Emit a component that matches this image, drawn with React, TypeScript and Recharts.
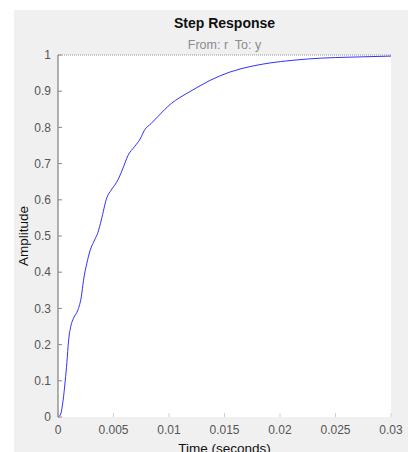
import { LineChart, Line, XAxis, YAxis, CartesianGrid, ReferenceLine } from 'recharts';

// step response samples
const times = [
  0, 0.0002, 0.0005, 0.00065, 0.0008, 0.00095, 0.00115, 0.0014, 0.0018, 0.0021,
  0.0023, 0.0026, 0.0029, 0.0033, 0.0036, 0.0039, 0.0044, 0.0048, 0.0054, 0.0059,
  0.0063, 0.0069, 0.0074, 0.0078, 0.0084, 0.009, 0.0096, 0.0102, 0.011, 0.0119,
  0.0137, 0.0155, 0.0173, 0.0191, 0.021, 0.0225, 0.025, 0.0275, 0.03,
];
const amplitude = [
  0, 0.005, 0.056, 0.1, 0.15, 0.21, 0.25, 0.273, 0.296, 0.332,
  0.378, 0.425, 0.461, 0.489, 0.51, 0.544, 0.606, 0.627, 0.655, 0.691,
  0.722, 0.747, 0.768, 0.793, 0.811, 0.83, 0.849, 0.866, 0.883, 0.899,
  0.93, 0.953, 0.968, 0.978, 0.985, 0.989, 0.993, 0.995, 0.997,
];
const xTicks = [0, 0.005, 0.01, 0.015, 0.02, 0.025, 0.03];
const yTicks = [0, 0.1, 0.2, 0.3, 0.4, 0.5, 0.6, 0.7, 0.8, 0.9, 1];

const data = times.map((t, i) => ({ t, y: amplitude[i] }));

const FONT = '"Liberation Sans", Arial, Helvetica, sans-serif';

export default function App() {
  return (
    <div style={{ position: 'absolute', left: 0, top: 0, width: 408, height: 452, overflow: 'hidden', fontFamily: FONT, background: '#fff' }}>
      {/* gray figure background */}
      <div style={{ position: 'absolute', left: 14, top: 10, width: 394, height: 442, background: '#f0f0f0' }} />

      <div style={{ position: 'absolute', left: 0, top: 0 }}>
        <LineChart width={408} height={452} data={data} margin={{ top: 55, right: 17, bottom: 0, left: 28 }}>
          <CartesianGrid fill="#ffffff" horizontal={false} vertical={false} />
          <XAxis
            dataKey="t"
            type="number"
            domain={[0, 0.03]}
            ticks={xTicks}
            interval={0}
            height={35}
            axisLine={false}
            tickLine={{ stroke: '#d0d0d0' }}
            tickSize={-4}
            tickMargin={12}
            tick={{ fill: '#555', fontSize: 12, fontFamily: FONT }}
          />
          <YAxis
            type="number"
            domain={[0, 1]}
            ticks={yTicks}
            interval={0}
            width={30}
            axisLine={{ stroke: '#666' }}
            tickLine={{ stroke: '#888' }}
            tickSize={-4}
            tickMargin={11}
            tick={{ fill: '#555', fontSize: 12, fontFamily: FONT }}
          />
          <ReferenceLine y={1} stroke="#999" strokeDasharray="1 1" />
          <Line
            type="monotone"
            dataKey="y"
            stroke="#1a1aff"
            strokeWidth={0.9}
            dot={false}
            isAnimationActive={false}
          />
        </LineChart>
      </div>

      <div style={{ position: 'absolute', left: 58, width: 333, top: 15, textAlign: 'center', fontSize: 14, lineHeight: '16px', fontWeight: 'bold', color: '#111' }}>
        Step Response
      </div>
      <div style={{ position: 'absolute', left: 58, width: 333, top: 38, textAlign: 'center', fontSize: 12.5, lineHeight: '15px', color: '#8c8c8c', whiteSpace: 'pre' }}>
        {'From: r  To: y'}
      </div>
      <div style={{ position: 'absolute', left: 23, top: 236, width: 0, height: 0 }}>
        <div style={{ position: 'absolute', left: 0, top: 0, transform: 'translate(-50%, -50%) rotate(-90deg)', fontSize: 13.5, lineHeight: '15px', color: '#111', whiteSpace: 'nowrap' }}>
          Amplitude
        </div>
      </div>
      <div style={{ position: 'absolute', left: 58, width: 333, top: 441, textAlign: 'center', fontSize: 13.5, lineHeight: '15px', color: '#111' }}>
        Time (seconds)
      </div>
    </div>
  );
}
